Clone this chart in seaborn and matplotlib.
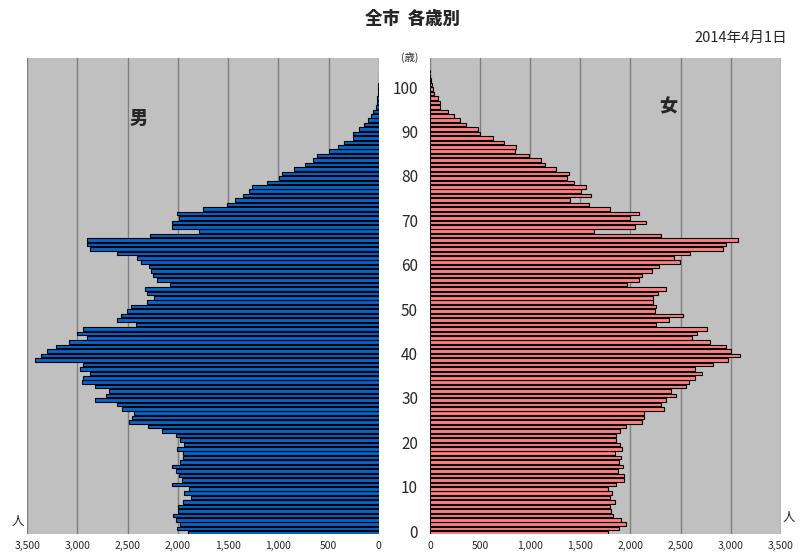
import matplotlib
matplotlib.use("Agg")
import matplotlib.pyplot as plt
import matplotlib.transforms as mtransforms
import pandas as pd
import seaborn as sns

# 年齢 (0-104歳)
ages = list(range(0, 105))

# 男 人口
male = [1896, 2012, 1979, 2019, 2052, 1995, 1999, 1946, 1869, 1936,
        1886, 2055, 1955, 1992, 2022, 2058, 1975, 1946, 1952, 2012,
        1936, 1975, 2022, 2158, 2294, 2487, 2453, 2440, 2556, 2606,
        2829, 2719, 2683, 2822, 2958, 2948, 2872, 2971, 2942, 3420,
        3360, 3307, 3214, 3081, 2908, 3008, 2942, 2417, 2606, 2563,
        2503, 2470, 2304, 2234, 2311, 2331, 2078, 2204, 2244, 2264,
        2284, 2364, 2410, 2603, 2875, 2908, 2908, 2278, 1786, 2055,
        2058, 1992, 2005, 1753, 1507, 1428, 1348, 1295, 1265, 1109,
        989, 963, 843, 734, 651, 614, 495, 408, 345, 259,
        252, 193, 149, 110, 80, 60, 27, 20, 13, 7,
        3, 12, 2, 1, 0]

# 女 人口
female = [1777, 1883, 1960, 1907, 1830, 1807, 1800, 1850, 1793, 1820,
          1773, 1860, 1933, 1933, 1873, 1923, 1887, 1907, 1847, 1917,
          1900, 1857, 1860, 1893, 1953, 2113, 2133, 2140, 2333, 2307,
          2360, 2453, 2403, 2550, 2580, 2643, 2713, 2640, 2823, 2973,
          3093, 3000, 2950, 2793, 2617, 2660, 2767, 2253, 2387, 2520,
          2243, 2253, 2223, 2223, 2273, 2353, 1967, 2083, 2117, 2217,
          2283, 2493, 2433, 2593, 2927, 2950, 3070, 2310, 1633, 2050,
          2160, 1993, 2083, 1800, 1590, 1393, 1603, 1510, 1560, 1440,
          1363, 1383, 1257, 1147, 1107, 990, 853, 863, 743, 633,
          503, 483, 360, 303, 237, 180, 103, 103, 83, 43,
          33, 17, 10, 3, 2]

xticks = [0, 500, 1000, 1500, 2000, 2500, 3000, 3500]
xtick_labels = ["0", "500", "1,000", "1,500", "2,000", "2,500", "3,000", "3,500"]
age_labels = [0, 10, 20, 30, 40, 50, 60, 70, 80, 90, 100]

df = pd.DataFrame({"age": ages, "male": male, "female": female})

sns.set_style("white")
plt.rcParams['font.family'] = ['Noto Sans CJK JP', 'DejaVu Sans']
num_font = ['Liberation Sans Narrow', 'Noto Sans CJK JP']

fig = plt.figure(figsize=(8, 5.53), dpi=100)
ax_m = fig.add_axes([0.0341, 0.0335, 0.4393, 0.8616])
ax_f = fig.add_axes([0.5375, 0.0335, 0.4384, 0.8616])

sns.barplot(data=df, x="male", y="age", orient="h", native_scale=True,
            color="#0066CC", saturation=1, edgecolor="black", linewidth=0.8,
            width=0.8, ax=ax_m)
sns.barplot(data=df, x="female", y="age", orient="h", native_scale=True,
            color="#FF8080", saturation=1, edgecolor="black", linewidth=0.8,
            width=0.8, ax=ax_f)

for ax in (ax_m, ax_f):
    ax.set_facecolor("#C0C0C0")
    ax.set_xlim(0, 3500)
    ax.set_ylim(-0.3, 107)
    ax.set_xticks(xticks)
    ax.set_xticklabels(xtick_labels, fontsize=7.5, family=num_font)
    ax.set_yticks([])
    ax.grid(axis="x", color="#7F7F7F", linewidth=1)
    ax.set_axisbelow(True)
    ax.set_xlabel("")
    ax.set_ylabel("")
    for s in ax.spines.values():
        s.set_visible(False)
    ax.tick_params(axis="x", length=0, pad=5)
ax_m.invert_xaxis()

# 年齢ラベル (中央)
trans = mtransforms.blended_transform_factory(ax_f.transAxes, ax_f.transData)
for a in age_labels:
    ax_f.text(-0.034, a, str(a), transform=trans, ha="right", va="center",
              fontsize=11, family=num_font, clip_on=False)

fig.text(412 / 800, 1 - 19 / 553, "全市  各歳別", ha="center", va="center",
         fontsize=12.5, fontweight="heavy")
fig.text(787 / 800, 1 - 38 / 553, "2014年4月1日", ha="right", va="center",
         fontsize=10.5, family=num_font)
fig.text(410 / 800, 1 - 57 / 553, "(歳)", ha="center", va="center", fontsize=7.5)
fig.text(18 / 800, 1 - 521 / 553, "人", ha="center", va="center", fontsize=9)
fig.text(789 / 800, 1 - 518 / 553, "人", ha="center", va="center", fontsize=9)
fig.text(139 / 800, 1 - 118 / 553, "男", ha="center", va="center",
         fontsize=13, fontweight="heavy")
fig.text(668 / 800, 1 - 107 / 553, "女", ha="center", va="center",
         fontsize=13, fontweight="heavy")

fig.savefig("out.png", dpi=100)
plt.close(fig)
